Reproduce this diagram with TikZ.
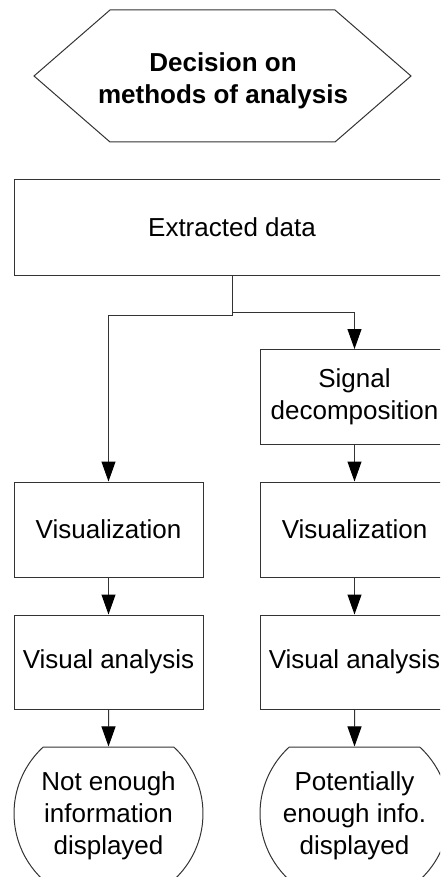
\documentclass[tikz,border=0pt]{standalone}
\usepackage{fontspec}
\setmainfont{Liberation Sans}
\usetikzlibrary{arrows.meta,shapes.misc}

\begin{document}
\begin{tikzpicture}[x=1pt,y=-1pt,>={Triangle[length=20pt,width=14pt,color=black]},line width=1pt,
  txt/.style={font=\fontsize{26}{32}\selectfont,align=center},
  box/.style={txt,draw=black!80,rectangle,minimum width=189pt,minimum height=95pt,inner sep=0pt},
  term/.style={txt,draw=black!80,rounded rectangle,rounded rectangle arc length=95,minimum width=189pt,minimum height=133pt,inner sep=0pt},
  flow/.style={->,black!80}]
\clip (0,0) rectangle (440,877);
\draw[black!80] (34,76) -- (110,10) -- (335,10) -- (411,76) -- (335,142) -- (110,142) -- cycle;
\node[txt,font=\bfseries\fontsize{26}{32}\selectfont] (decision) at (223,81) {Decision on\\methods of analysis};
\node[box,minimum width=436pt] (extracted) at (232,227.5) {Extracted data};
\node[box] (decomp) at (354.5,397) {Signal\\decomposition};
\node[box] (vizleft) at (108.5,529.5) {Visualization};
\node[box] (vizright) at (354.5,529.5) {Visualization};
\node[box,minimum height=94pt] (analleft) at (108.5,662) {Visual analysis};
\node[box,minimum height=94pt] (analright) at (354.5,662) {Visual analysis};
\node[term,text depth=0pt] (notenough) at (108.5,813.5) {Not enough\\information\\displayed};
\node[term,text depth=0pt] (enough) at (354.5,813.5) {Potentially\\enough info.\\displayed};
\draw[flow] (extracted.south) -- ++(0,40) -| (vizleft.north);
\draw[flow] (extracted.south) -- ++(0,37) -| (decomp.north);
\draw[flow] (decomp) -- (vizright);
\draw[flow] (vizleft) -- (analleft);
\draw[flow] (vizright) -- (analright);
\draw[flow] (analleft) -- (notenough);
\draw[flow] (analright) -- (enough);
\end{tikzpicture}
\end{document}
